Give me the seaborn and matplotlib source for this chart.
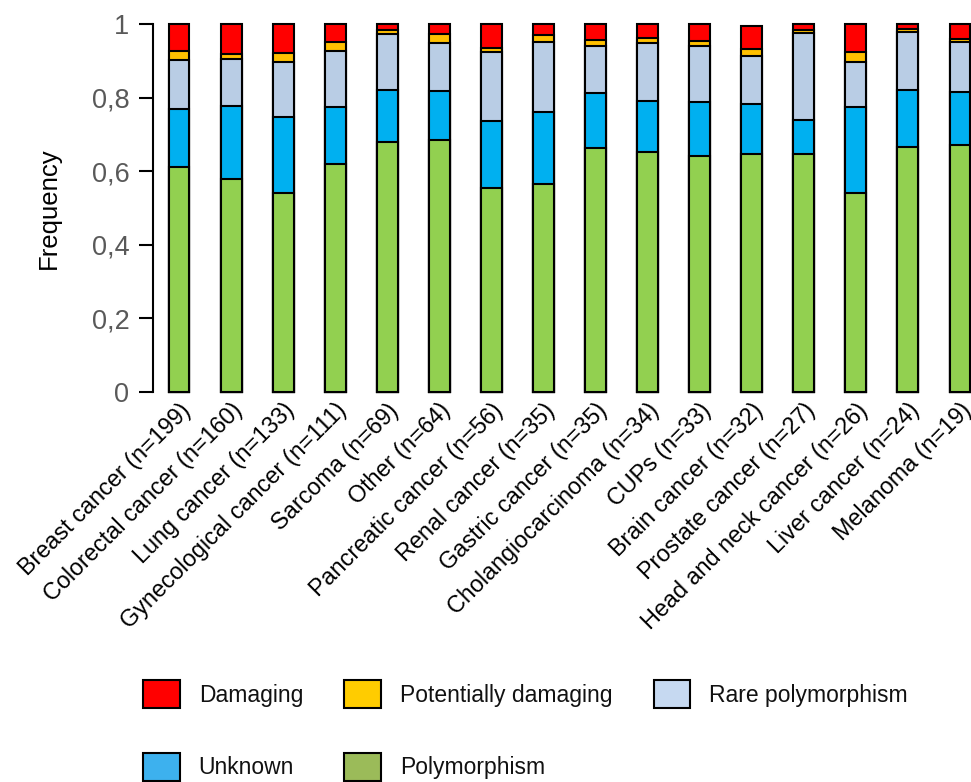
import numpy as np
import pandas as pd
import seaborn as sns
import matplotlib.pyplot as plt
from matplotlib.patches import Patch

sns.set_theme(style="white")
plt.rcParams["font.family"] = ["Liberation Sans", "DejaVu Sans"]

cancers = [
    "Breast cancer (n=199)", "Colorectal cancer (n=160)", "Lung cancer (n=133)",
    "Gynecological cancer (n=111)", "Sarcoma (n=69)", "Other (n=64)",
    "Pancreatic cancer (n=56)", "Renal cancer (n=35)", "Gastric cancer (n=35)",
    "Cholangiocarcinoma (n=34)", "CUPs (n=33)", "Brain cancer (n=32)",
    "Prostate cancer (n=27)", "Head and neck cancer (n=26)", "Liver cancer (n=24)",
    "Melanoma (n=19)",
]
polymorphism = [0.612, 0.579, 0.542, 0.620, 0.679, 0.686, 0.554, 0.566,
                0.662, 0.651, 0.640, 0.648, 0.648, 0.542, 0.667, 0.671]
unknown = [0.158, 0.199, 0.204, 0.154, 0.142, 0.131, 0.183, 0.194,
           0.150, 0.141, 0.149, 0.135, 0.091, 0.233, 0.154, 0.145]
rare = [0.132, 0.127, 0.152, 0.153, 0.152, 0.131, 0.186, 0.190,
        0.129, 0.156, 0.152, 0.129, 0.236, 0.123, 0.158, 0.134]
potential = [0.025, 0.013, 0.022, 0.023, 0.011, 0.025, 0.013, 0.020,
             0.015, 0.014, 0.014, 0.020, 0.009, 0.025, 0.007, 0.009]
damaging = [0.073, 0.082, 0.080, 0.050, 0.016, 0.027, 0.064, 0.030,
            0.044, 0.038, 0.045, 0.063, 0.016, 0.077, 0.014, 0.041]

classes = ["Polymorphism", "Unknown", "Rare polymorphism", "Potentially damaging", "Damaging"]
bar_colors = ["#92D050", "#00B0F0", "#B9CDE5", "#FFC000", "#FF0000"]
legend_colors = ["#9BBB59", "#3DB1EE", "#C6D9F1", "#FFCC00", "#FF0000"]

df = pd.DataFrame({"cancer": cancers, "Polymorphism": polymorphism, "Unknown": unknown,
                   "Rare polymorphism": rare, "Potentially damaging": potential,
                   "Damaging": damaging})
cum = df[classes].cumsum(axis=1)
cum["cancer"] = df["cancer"]

fig = plt.figure(figsize=(9.71, 7.82), dpi=100)
ax = fig.add_axes([153 / 971, 1 - 392 / 782, 833 / 971, 368 / 782])

# draw from the top layer down so each segment overlaps the one above
for cls, col in zip(classes[::-1], bar_colors[::-1]):
    sns.barplot(data=cum, x="cancer", y=cls, order=cancers, color=col, saturation=1,
                width=0.4, edgecolor="black", linewidth=1.5, ax=ax)
for p in ax.patches:
    p.set_clip_on(False)

ax.set_xlim(-0.5, len(cancers) - 0.5)
ax.set_ylim(0, 1)
ax.set_yticks(np.arange(0, 1.01, 0.2))
ax.set_yticklabels(["0", "0,2", "0,4", "0,6", "0,8", "1"], fontsize=19.5, color="#595959")
ax.set_ylabel("Frequency", fontsize=18.5, color="black", labelpad=22)
ax.set_xlabel("")
ax.tick_params(axis="y", direction="out", length=10, width=1.5, color="black", pad=7, left=True)
ax.tick_params(axis="x", length=0, pad=5)
plt.setp(ax.get_xticklabels(), rotation=45, ha="right", rotation_mode="anchor",
         fontsize=16.8, color="black")
for side in ["top", "right", "bottom"]:
    ax.spines[side].set_visible(False)
ax.spines["left"].set_color("black")
ax.spines["left"].set_linewidth(1.5)

order = [4, 1, 3, 0, 2]
handles = [Patch(facecolor=legend_colors[i], edgecolor="black", linewidth=1.5) for i in order]
labels = [classes[i] for i in order]
fig.legend(handles, labels, ncol=3, loc="upper left", bbox_to_anchor=(143 / 971, 1 - 680 / 782),
           frameon=False, fontsize=16.5, labelcolor="#111111", borderpad=0, borderaxespad=0,
           handlelength=1.6, handleheight=1.5, handletextpad=0.83, columnspacing=1.8,
           labelspacing=1.95)

fig.savefig("out.png", dpi=100)
